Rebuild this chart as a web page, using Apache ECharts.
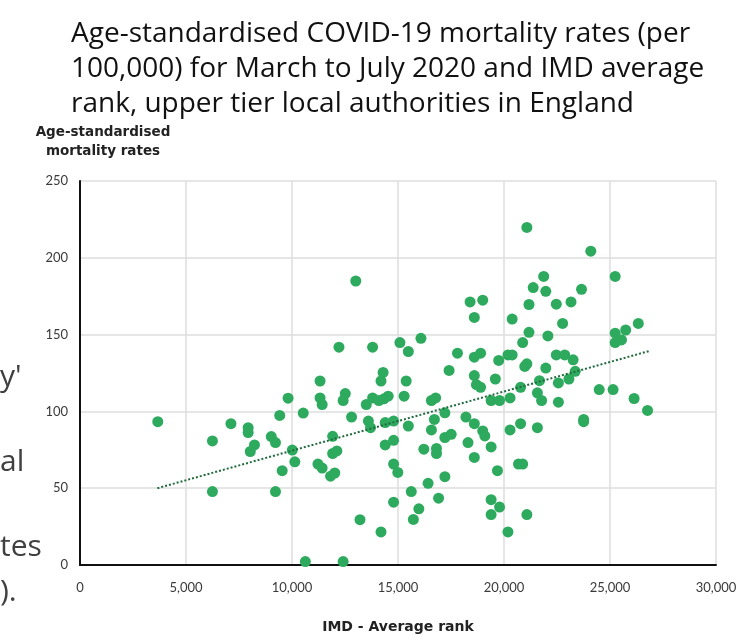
<!DOCTYPE html>
<html>
<head>
<meta charset="utf-8">
<script src="https://cdn.jsdelivr.net/npm/echarts@6/dist/echarts.min.js"></script>
<style>
html, body { margin: 0; padding: 0; background: #fff; }
#chart { width: 743px; height: 643px; }
</style>
</head>
<body>
<div id="chart"></div>
<script>
// IMD average rank (x) and age-standardised mortality rate (y)
var imdRank = [3669, 6247, 6247, 7120, 7932, 7932, 8230, 8032, 9023, 9221,
	9221, 9420, 9816, 10014, 10133, 9538, 10530, 10629, 11323, 11323,
	11422, 11224, 11422, 11918, 11918, 12116, 11819, 12017, 12215, 12413,
	12513, 12413, 12810, 13008, 13207, 13505, 13802, 13802, 13604, 13703,
	14099, 14198, 14297, 14337, 14536, 14397, 14397, 14198, 14793, 14793,
	14793, 14991, 14793, 15090, 15288, 15387, 15487, 15487, 15626, 15725,
	15983, 16082, 16220, 16419, 16577, 16776, 16577, 16716, 16815, 16815,
	16914, 17211, 17211, 17211, 17410, 17509, 17806, 18203, 18302, 18401,
	18600, 18600, 18897, 18600, 18699, 18897, 18600, 18600, 18996, 18996,
	19095, 19393, 19393, 19393, 19393, 19592, 19691, 19750, 19790, 19790,
	20187, 20385, 20286, 20286, 20187, 20385, 20782, 20782, 20683, 20881,
	20881, 20980, 21079, 21178, 21178, 21079, 21079, 21377, 21575, 21674,
	21773, 21575, 21872, 21971, 21971, 22070, 22467, 22467, 22566, 22566,
	22765, 22864, 23062, 23161, 23261, 23360, 23657, 23757, 23757, 24094,
	24491, 25145, 25244, 25244, 25244, 25542, 25740, 26335, 26137, 26771];
var mortality = [93.3, 80.8, 47.8, 92, 89.4, 86.2, 78.2, 73.9, 83.6, 79.7,
	47.8, 97.4, 108.6, 74.8, 67.2, 61.4, 98.9, 2.2, 119.8, 108.8,
	104.5, 65.7, 63.1, 83.8, 72.6, 74.3, 57.8, 59.9, 141.8, 107.1,
	111.6, 2.2, 96.3, 184.9, 29.5, 104.5, 141.8, 108.8, 93.7, 89.4,
	107.1, 119.8, 125.4, 108.2, 109.9, 92.7, 78.2, 21.5, 93.7, 81.2,
	65.7, 60.3, 40.9, 144.8, 109.9, 119.8, 139, 90.5, 47.8, 29.7,
	36.6, 147.6, 75.4, 53.2, 107.1, 108.8, 87.9, 94.8, 75.9, 72.6,
	43.5, 99.1, 83, 57.5, 126.7, 85.1, 137.9, 96.3, 79.7, 171.3,
	161.2, 135.3, 137.9, 123.3, 117.4, 115.7, 92, 70, 172.4, 87.3,
	84, 107.1, 76.9, 42.5, 32.8, 121.1, 61.4, 133.2, 107.1, 37.7,
	136.8, 136.8, 108.8, 87.9, 21.5, 160.1, 115.7, 92, 65.7, 65.7,
	144.8, 129.3, 131, 151.5, 169.6, 219.8, 32.8, 180.6, 112.1, 120,
	107.1, 89.4, 187.9, 178.2, 128.2, 149.1, 136.8, 169.8, 118.5, 106,
	157.3, 136.8, 121.1, 171.3, 133.6, 126.1, 179.5, 94.8, 93.3, 204.3,
	114.2, 114.2, 187.9, 150.9, 144.8, 146.5, 153, 157.3, 108.4, 100.6];
// trend line end points
var trendX = [3650, 26900];
var trendY = [50, 139.5];

var points = [];
for (var i = 0; i < imdRank.length; i++) {
	points.push([imdRank[i], mortality[i]]);
}
var trend = [];
for (var j = 0; j < trendX.length; j++) {
	trend.push([trendX[j], trendY[j]]);
}

var chart = echarts.init(document.getElementById('chart'));
var option = {
	animation: false,
	title: {
		text: 'Age-standardised COVID-19 mortality rates (per\n100,000) for March to July 2020 and IMD average\nrank, upper tier local authorities in England',
		left: 66,
		top: 12,
		textStyle: {
			fontFamily: 'Open Sans',
			fontWeight: 'normal',
			fontSize: 28,
			lineHeight: 35,
			color: '#111'
		}
	},
	graphic: [
		{ type: 'text', left: 0, top: 362, style: { text: "y'", font: '30px "Open Sans"', fill: '#404040' } },
		{ type: 'text', left: 0, top: 447, style: { text: 'al', font: '30px "Open Sans"', fill: '#404040' } },
		{ type: 'text', left: 0, top: 532, style: { text: 'tes', font: '30px "Open Sans"', fill: '#404040' } },
		{ type: 'text', left: 0, top: 577, style: { text: ').', font: '30px "Open Sans"', fill: '#404040' } }
	],
	grid: {
		left: 80,
		right: 27,
		top: 181,
		bottom: 78,
		outerBoundsMode: 'none'
	},
	xAxis: {
		type: 'value',
		min: 0,
		max: 30000,
		interval: 5000,
		name: 'IMD - Average rank',
		nameLocation: 'middle',
		nameGap: 55,
		nameTextStyle: { fontFamily: 'DejaVu Sans', fontWeight: 'bold', fontSize: 14, color: '#222' },
		axisLine: { show: true, lineStyle: { color: '#111', width: 2 } },
		axisTick: { show: false },
		axisLabel: {
			margin: 16,
			fontFamily: 'Lato',
			fontSize: 13,
			color: '#3a3a3a',
			formatter: function(v) { return v.toLocaleString('en-US'); }
		},
		splitLine: { show: true, lineStyle: { color: '#dedede', width: 1.5 } }
	},
	yAxis: {
		type: 'value',
		min: 0,
		max: 250,
		interval: 50,
		name: 'Age-standardised\nmortality rates',
		nameLocation: 'end',
		nameGap: 20,
		nameTextStyle: { fontFamily: 'DejaVu Sans', fontWeight: 'bold', fontSize: 13.5, lineHeight: 19, color: '#222', align: 'center', padding: [0, 0, 0, 46] },
		axisLine: { show: true, lineStyle: { color: '#111', width: 2 } },
		axisTick: { show: false },
		axisLabel: { margin: 12, fontFamily: 'Lato', fontSize: 13, color: '#3a3a3a' },
		splitLine: { show: true, lineStyle: { color: '#dedede', width: 1.5 } }
	},
	series: [{
		type: 'scatter',
		data: points,
		symbolSize: 11,
		itemStyle: { color: '#2eaa5e', opacity: 1 }
	}, {
		type: 'line',
		data: trend,
		symbol: 'none',
		lineStyle: { color: '#1f6b3d', width: 2, type: [2, 2] },
		z: 3
	}]
};
chart.setOption(option);
</script>
</body>
</html>
